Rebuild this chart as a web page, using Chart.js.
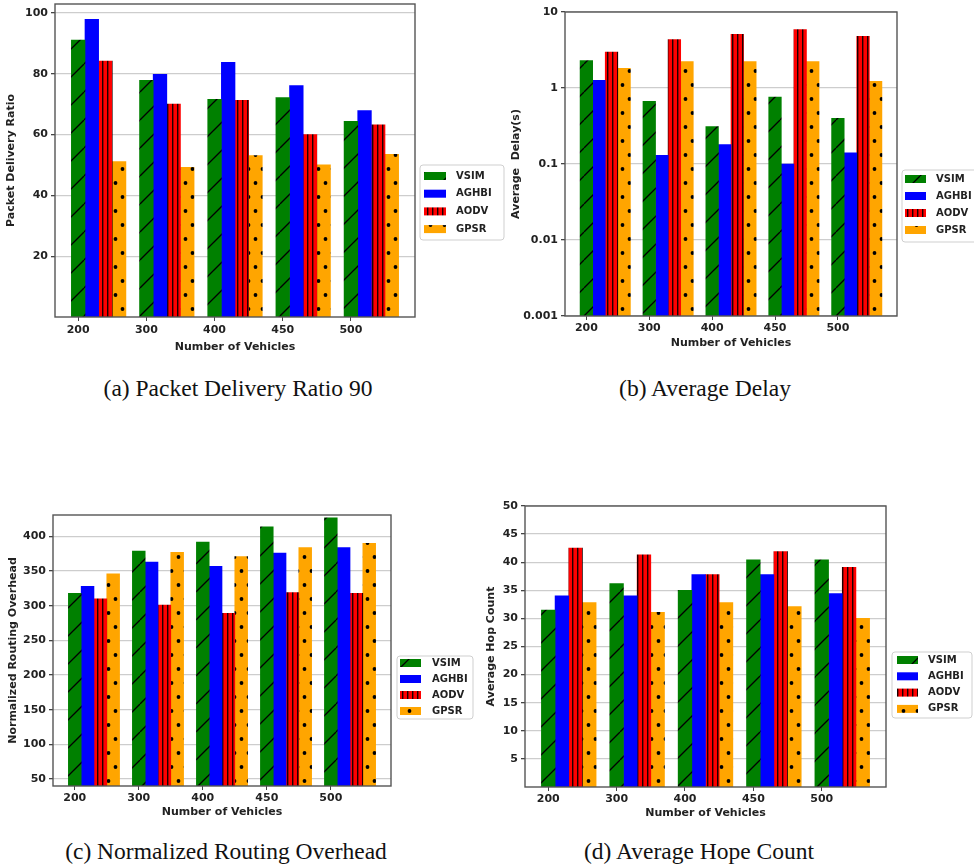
<!DOCTYPE html>
<html><head><meta charset="utf-8">
<script src="https://cdn.jsdelivr.net/npm/chart.js@4.4.1/dist/chart.umd.min.js"></script>
<style>
html,body{margin:0;padding:0;background:#fff;width:974px;height:867px;overflow:hidden;position:relative}
canvas{position:absolute}
.cap{position:absolute;font-family:'Liberation Serif','Times New Roman',serif;font-size:23.5px;line-height:23.5px;color:#111;white-space:nowrap;transform:translateX(-50%)}
</style></head><body>
<canvas id="ca" width="505" height="380" style="left:0;top:-20px"></canvas>
<canvas id="cb" width="474" height="380" style="left:500px;top:-20px"></canvas>
<canvas id="cc" width="505" height="340" style="left:0;top:480px"></canvas>
<canvas id="cd" width="494" height="340" style="left:480px;top:480px"></canvas>
<div class="cap" style="left:238px;top:377px">(a) Packet Delivery Ratio 90</div>
<div class="cap" style="left:705px;top:377px">(b) Average Delay</div>
<div class="cap" style="left:226px;top:840px">(c) Normalized Routing Overhead</div>
<div class="cap" style="left:699px;top:840px">(d) Average Hope Count</div>
<script>
// ---------- data ----------
const categories = ['200','300','400','450','500'];
const seriesNames = ['VSIM','AGHBI','AODV','GPSR'];

const pdrVSIM  = [91.0, 77.8, 71.6, 72.1, 64.3];
const pdrAGHBI = [97.9, 79.8, 83.7, 76.1, 67.9];
const pdrAODV  = [84.1, 70.0, 71.2, 60.0, 63.2];
const pdrGPSR  = [51.1, 49.2, 53.1, 50.0, 53.5];
const pdrTicks = [20, 40, 60, 80, 100];

const delayVSIM  = [2.29, 0.67, 0.31, 0.76, 0.40];
const delayAGHBI = [1.26, 0.13, 0.18, 0.10, 0.14];
const delayAODV  = [2.98, 4.34, 5.10, 5.88, 4.80];
const delayGPSR  = [1.82, 2.22, 2.22, 2.22, 1.22];
const delayTicks = [0.001, 0.01, 0.1, 1, 10];

const nroVSIM  = [318, 379, 392, 414, 427];
const nroAGHBI = [328, 363, 357, 376, 384];
const nroAODV  = [310, 301, 289, 319, 318];
const nroGPSR  = [346, 377, 371, 384, 390];
const nroTicks = [50, 100, 150, 200, 250, 300, 350, 400];

const hopVSIM  = [31.5, 36.2, 35.0, 40.4, 40.4];
const hopAGHBI = [34.0, 34.0, 37.8, 37.8, 34.4];
const hopAODV  = [42.5, 41.3, 37.8, 41.9, 39.1];
const hopGPSR  = [32.8, 31.1, 32.8, 32.1, 30.0];
const hopTicks = [5, 10, 15, 20, 25, 30, 35, 40, 45, 50];

// ---------- styles ----------
const baseColors = ['#008000', '#0000ff', '#ff0000', '#ffa500'];
const hatchKinds = ['slash', 'none', 'vline', 'dots'];
const TXT = '#222';
Chart.defaults.font.family = "'DejaVu Sans', sans-serif";
Chart.defaults.font.size = 11;
Chart.defaults.font.weight = 'bold';
Chart.defaults.color = TXT;

function makePattern(kind, color) {
  const c = document.createElement('canvas');
  let w = 4, h = 4;
  if (kind === 'slash') { w = 28; h = 28; }
  else if (kind === 'vline') { w = 5; h = 5; }
  else if (kind === 'dots') { w = 14; h = 28; }
  c.width = w; c.height = h;
  const g = c.getContext('2d');
  g.fillStyle = color; g.fillRect(0, 0, w, h);
  g.strokeStyle = '#000'; g.fillStyle = '#000';
  if (kind === 'slash') {
    g.lineWidth = 1.3;
    for (const k of [-28, 0, 28]) { g.beginPath(); g.moveTo(k, 28); g.lineTo(k + 28, 0); g.stroke(); }
  } else if (kind === 'vline') {
    g.fillStyle = '#1a0000'; g.fillRect(2, 0, 1.4, h);
  } else if (kind === 'dots') {
    for (const [x, y] of [[3.5, 7], [10.5, 21]]) { g.beginPath(); g.arc(x, y, 1.9, 0, Math.PI * 2); g.fill(); }
  }
  return document.createElement('canvas').getContext('2d').createPattern(c, 'repeat');
}
const patterns = hatchKinds.map((k, i) => makePattern(k, baseColors[i]));

const framePlugin = {
  id: 'frame',
  afterDraw(chart) {
    const {ctx, chartArea: a} = chart;
    ctx.save(); ctx.strokeStyle = '#555'; ctx.lineWidth = 1.4;
    ctx.strokeRect(a.left, a.top, a.right - a.left, a.bottom - a.top);
    ctx.restore();
  }
};
const boxLegendPlugin = {
  id: 'boxLegend',
  afterDraw(chart, args, o) {
    const ctx = chart.ctx;
    ctx.save();
    ctx.beginPath();
    if (ctx.roundRect) ctx.roundRect(o.x, o.y, o.w, o.h, 3); else ctx.rect(o.x, o.y, o.w, o.h);
    ctx.fillStyle = 'rgba(255,255,255,0.9)'; ctx.fill();
    ctx.strokeStyle = '#cfcfcf'; ctx.lineWidth = 1; ctx.stroke();
    chart.data.datasets.forEach((ds, i) => {
      const cy = o.y + o.first + i * o.gap;
      ctx.fillStyle = ds.backgroundColor;
      ctx.fillRect(o.x + o.sw0, cy - o.sh / 2, o.swW, o.sh);
      ctx.fillStyle = TXT; ctx.font = "bold 10px 'DejaVu Sans'";
      ctx.textBaseline = 'middle'; ctx.textAlign = 'left';
      ctx.fillText(ds.label, o.x + o.tx, cy);
    });
    ctx.restore();
  }
};

function buildDatasets(seriesArrays) {
  return seriesArrays.map((vals, k) => ({
    label: seriesNames[k],
    data: vals.map((v, i) => ({x: i + k * 0.2, y: v})),
    backgroundColor: patterns[k],
    borderWidth: 0,
    grouped: false,
    categoryPercentage: 1,
    barPercentage: 1
  }));
}

function makeChart(id, c) {
  return new Chart(document.getElementById(id), {
    type: 'bar',
    data: {datasets: buildDatasets(c.series)},
    plugins: [framePlugin, boxLegendPlugin],
    options: {
      responsive: false, animation: false,
      layout: {padding: c.pad},
      plugins: {legend: {display: false}, tooltip: {enabled: false}, boxLegend: c.legend},
      scales: {
        x: {
          type: 'linear', min: -0.34, max: 4.94, offset: false,
          grid: {display: true, drawOnChartArea: false, drawTicks: true, tickLength: 4, tickColor: '#444', lineWidth: 1, offset: false},
          border: {display: false},
          afterBuildTicks: s => { s.ticks = categories.map((_, i) => ({value: i})); },
          ticks: {callback: v => categories[Math.round(v)], padding: c.xTickPad, maxRotation: 0, autoSkip: false, color: TXT},
          title: {display: true, text: 'Number of Vehicles', padding: {top: 0, bottom: c.xTitlePad}, color: TXT},
          afterFit: s => { s.height = c.hx; }
        },
        y: {
          type: c.yType, min: c.yMin, max: c.yMax,
          grid: {color: '#cdcdcd', lineWidth: 1.3, drawTicks: true, tickLength: 4, tickColor: '#444'},
          border: {display: false},
          afterBuildTicks: s => { s.ticks = c.yTicks.map(v => ({value: v})); },
          ticks: {callback: v => String(v), padding: 3, autoSkip: false, color: TXT},
          title: {display: true, text: c.yTitle, padding: {top: c.yTitlePad, bottom: 0}, color: TXT},
          afterFit: s => { s.width = c.wy; }
        }
      }
    }
  });
}

makeChart('ca', {
  series: [pdrVSIM, pdrAGHBI, pdrAODV, pdrGPSR],
  yType: 'linear', yMin: 0, yMax: 102.9, yTicks: pdrTicks, yTitle: 'Packet Delivery Ratio',
  pad: {left: 0, top: 24, right: 90, bottom: 3}, wy: 55, hx: 40,
  xTickPad: 3, xTitlePad: 3, yTitlePad: 5,
  legend: {x: 420, y: 185, w: 84, h: 75, first: 11, gap: 17.7, sw0: 4, swW: 22, sh: 8, tx: 36}
});
makeChart('cb', {
  series: [delayVSIM, delayAGHBI, delayAODV, delayGPSR],
  yType: 'logarithmic', yMin: 0.001, yMax: 10, yTicks: delayTicks, yTitle: 'Average  Delay(s)',
  pad: {left: 5, top: 32, right: 77, bottom: 10}, wy: 60, hx: 34,
  xTickPad: 2, xTitlePad: 0, yTitlePad: 5,
  legend: {x: 402, y: 190, w: 85, h: 72, first: 9, gap: 17, sw0: 3, swW: 21, sh: 8, tx: 34}
});
makeChart('cc', {
  series: [nroVSIM, nroAGHBI, nroAODV, nroGPSR],
  yType: 'linear', yMin: 40, yMax: 431, yTicks: nroTicks, yTitle: 'Normalized Routing Overhead',
  pad: {left: 0, top: 35, right: 114, bottom: 1}, wy: 53, hx: 33,
  xTickPad: 2, xTitlePad: 0, yTitlePad: 6.4,
  legend: {x: 397, y: 176, w: 76, h: 63, first: 7, gap: 16, sw0: 3, swW: 21, sh: 8, tx: 35}
});
makeChart('cd', {
  series: [hopVSIM, hopAGHBI, hopAODV, hopGPSR],
  yType: 'linear', yMin: 0, yMax: 50, yTicks: hopTicks, yTitle: 'Average Hop Count',
  pad: {left: 0, top: 26, right: 88, bottom: 0}, wy: 45, hx: 33,
  xTickPad: 2, xTitlePad: 0, yTitlePad: 4.4,
  legend: {x: 412, y: 172, w: 80, h: 66, first: 8, gap: 16.3, sw0: 5, swW: 21, sh: 8, tx: 36}
});
</script>
</body></html>
